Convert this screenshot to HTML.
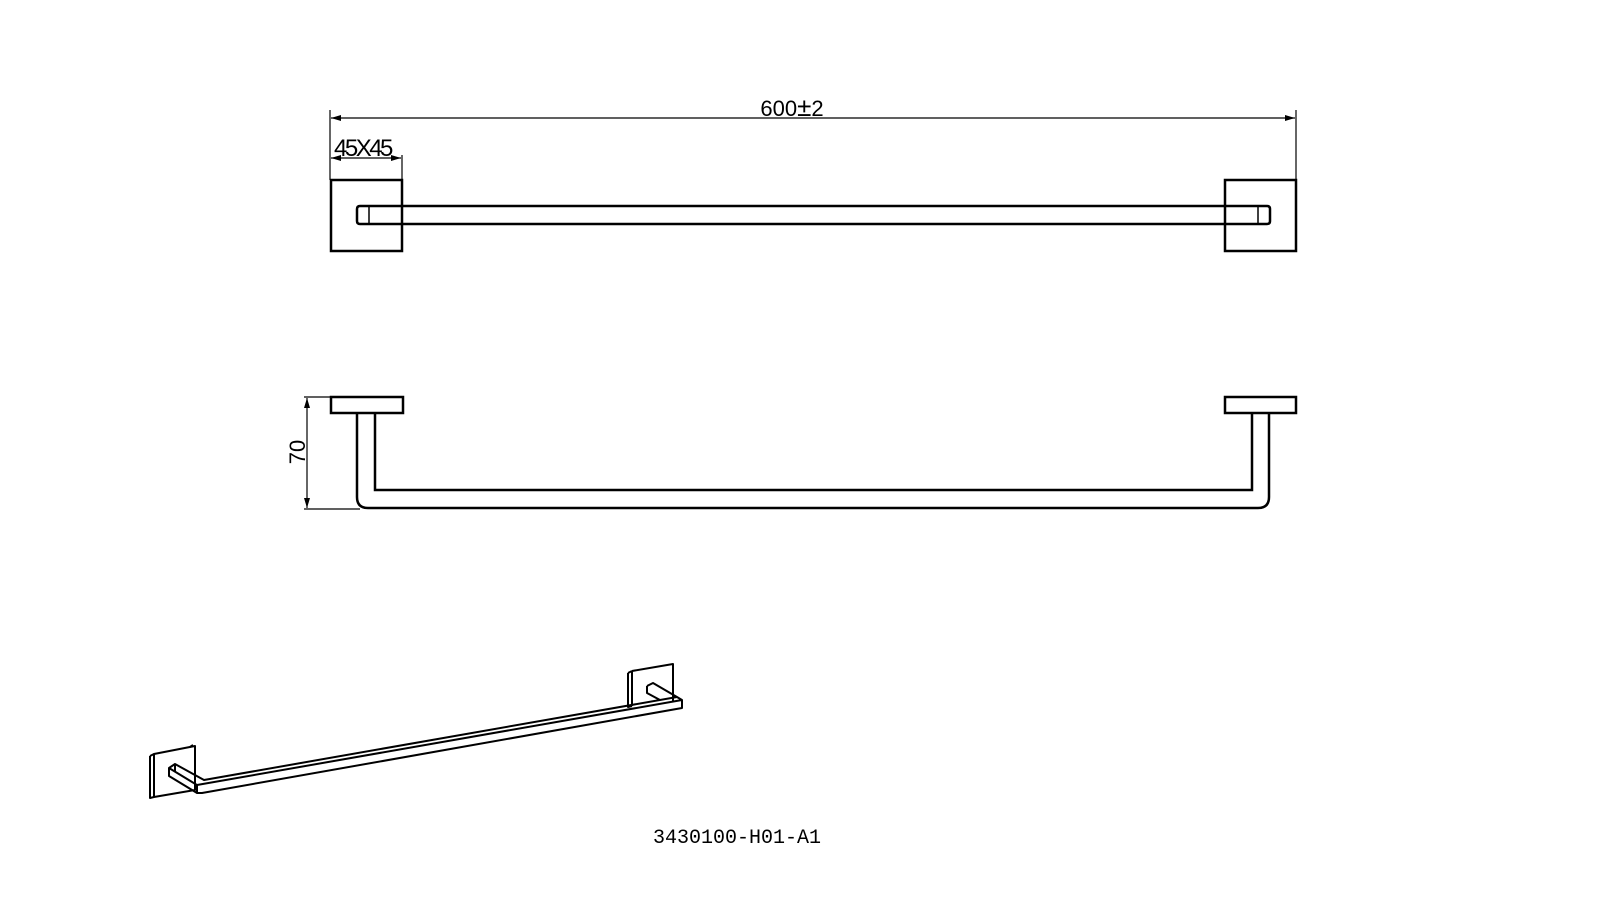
<!DOCTYPE html>
<html><head><meta charset="utf-8"><style>body{margin:0;background:#fff}svg{display:block}</style></head><body>
<svg width="1600" height="900" viewBox="0 0 1600 900" xmlns="http://www.w3.org/2000/svg">
<defs><marker id="a" viewBox="0 0 10 6" refX="10" refY="3" markerWidth="14" markerHeight="6" markerUnits="userSpaceOnUse" orient="auto-start-reverse"><path d="M0,0L10,3L0,6z" fill="#000"/></marker></defs>
<g stroke="#000" fill="none">
<line x1="330" y1="110" x2="330" y2="180" stroke-width="1.2"/>
<line x1="1296" y1="110" x2="1296" y2="180" stroke-width="1.2"/>
<line x1="331" y1="118" x2="1295" y2="118" stroke-width="1.2" marker-start="url(#a)" marker-end="url(#a)"/>
<line x1="402" y1="155" x2="402" y2="180" stroke-width="1.2"/>
<line x1="331" y1="158" x2="401" y2="158" stroke-width="1.2" marker-start="url(#a)" marker-end="url(#a)"/>
<rect x="331" y="180" width="71" height="71" stroke-width="2.5"/>
<rect x="1225" y="180" width="71" height="71" stroke-width="2.5"/>
<path d="M360,206 H1267 Q1270,206 1270,209 V221 Q1270,224 1267,224 H360 Q357,224 357,221 V209 Q357,206 360,206Z" stroke-width="2.5"/>
<line x1="369" y1="206" x2="369" y2="224" stroke-width="1.5"/>
<line x1="1258" y1="206" x2="1258" y2="224" stroke-width="1.5"/>
<rect x="331" y="397" width="72" height="16" stroke-width="2.5"/>
<rect x="1225" y="397" width="71" height="16" stroke-width="2.5"/>
<path d="M357,413 V497 Q357,508 368,508 H1258 Q1269,508 1269,497 V413" stroke-width="2.5"/>
<path d="M375,413 V490 H1252 V413" stroke-width="2.5"/>
<line x1="304" y1="397" x2="331" y2="397" stroke-width="1.2"/>
<line x1="304" y1="509" x2="360" y2="509" stroke-width="1.2"/>
<line x1="307" y1="398" x2="307" y2="508" stroke-width="1.2" marker-start="url(#a)" marker-end="url(#a)"/>
<g stroke-width="2" stroke-linejoin="round">
<path d="M154,754 L195,746 L195,790 L154,797 Z"/>
<path d="M150,756 L154,754 M150,756 L150,798 L154,797 M150,756 L154,754 M190,747 L193,745"/>
<path d="M632,671 L673,664 L673,701 M632,671 L632,706"/>
<path d="M628,673 L632,671 M628,673 L628,707 L632,706"/>
<path d="M169,768 L175,764 L204,780 L677,697 L682,700 L682,708 L202,793 L197,793 L169,776 Z"/>
<path d="M175,764 L175,772 M169,768 L197,785 L682,700 M197,785 L197,793"/>
<path d="M647,686 L653,683 L677,697 M647,686 L647,693 L660,700"/>
</g>
</g>
<g font-family="Liberation Sans, sans-serif" font-size="22" fill="#000">
<text x="792" y="116" text-anchor="middle">600<tspan font-size="26">±</tspan>2</text>
<text x="334" y="156" font-size="24" letter-spacing="-2.5">45X45</text>
<text transform="translate(305,452) rotate(-90)" text-anchor="middle">70</text>
</g>
<text x="653" y="843" font-family="Liberation Mono, monospace" font-size="20" fill="#000">3430100-H01-A1</text>
</svg>
</body></html>
